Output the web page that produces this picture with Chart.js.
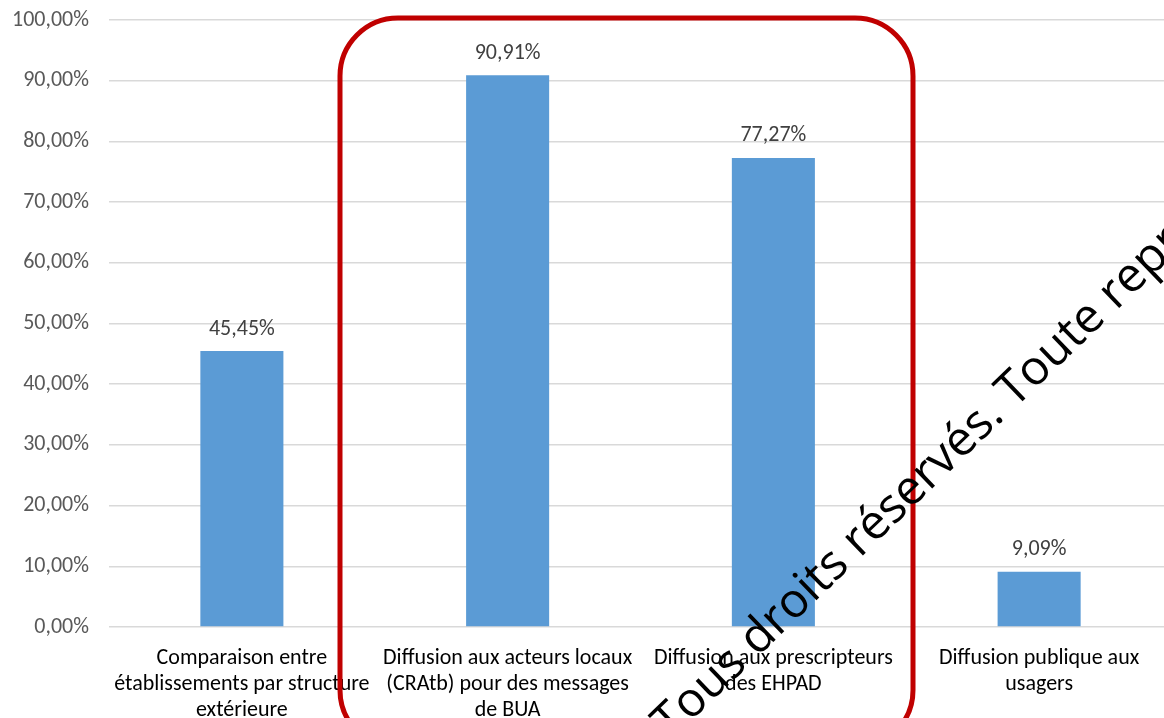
<!DOCTYPE html>
<html>
<head>
<meta charset="utf-8">
<script src="https://cdn.jsdelivr.net/npm/chart.js@4.4.0/dist/chart.umd.min.js"></script>
<style>
  html, body { margin: 0; padding: 0; background: #fff; overflow: hidden; }
  #wrap { width: 1172px; height: 718px; position: relative; }
</style>
</head>
<body>
<div id="wrap"><canvas id="bars"></canvas></div>
<script>
// categories (wrapped as in the original)
const categories = [
  ["Comparaison entre", "établissements par structure", "extérieure"],
  ["Diffusion aux acteurs locaux", "(CRAtb) pour des messages", "de BUA"],
  ["Diffusion aux prescripteurs", "des EHPAD"],
  ["Diffusion publique aux", "usagers"]
];
const values = [45.45, 90.91, 77.27, 9.09];
const yMax = 100;
const yStep = 10;
const watermark = "Tous droits réservés. Toute reproduction interdite";

const FONT = "Carlito, Calibri, Lato, sans-serif";
const fmt = v => v.toFixed(2).replace('.', ',') + '%';

// value labels above the bars
const valueLabels = {
  id: 'valueLabels',
  afterDatasetsDraw(chart) {
    const ctx = chart.ctx;
    const meta = chart.getDatasetMeta(0);
    ctx.save();
    ctx.font = '22px ' + FONT;
    ctx.fillStyle = '#404040';
    ctx.textAlign = 'center';
    ctx.textBaseline = 'middle';
    meta.data.forEach((bar, i) => {
      ctx.fillText(fmt(values[i]), bar.x, bar.y - 22);
    });
    ctx.restore();
  }
};

// red frame + copyright overlay from the source picture
const overlay = {
  id: 'overlay',
  afterDraw(chart) {
    const ctx = chart.ctx;
    ctx.save();
    ctx.strokeStyle = '#C00000';
    ctx.lineWidth = 5;
    ctx.beginPath();
    ctx.roundRect(340, 18, 573, 730, 58);
    ctx.stroke();

    ctx.font = '48px "Open Sans", sans-serif';
    ctx.fillStyle = '#000';
    const before = ctx.measureText("Tous droits réservés").width + ctx.measureText(".").width / 2;
    ctx.translate(1001, 422);
    ctx.rotate(-44 * Math.PI / 180);
    ctx.textBaseline = 'alphabetic';
    ctx.fillText(watermark, -before, 0);
    ctx.restore();
  }
};

new Chart(document.getElementById('bars'), {
  type: 'bar',
  data: {
    labels: categories,
    datasets: [{
      data: values,
      backgroundColor: '#5B9BD5',
      barPercentage: 0.3125,
      categoryPercentage: 1
    }]
  },
  options: {
    responsive: true,
    maintainAspectRatio: false,
    animation: false,
    layout: { padding: { top: 20, right: 0, left: 0, bottom: 0 } },
    plugins: { legend: { display: false }, tooltip: { enabled: false } },
    scales: {
      x: {
        grid: { display: false },
        border: { display: false },
        ticks: {
          color: '#000',
          font: { family: FONT, size: 22, lineHeight: 1.18 },
          padding: 11,
          maxRotation: 0,
          autoSkip: false
        },
        afterFit(scale) { scale.height = 91; }
      },
      y: {
        min: 0,
        max: yMax,
        grid: { color: '#D9D9D9', lineWidth: 1.5, drawTicks: false },
        border: { display: false },
        ticks: {
          stepSize: yStep,
          color: '#595959',
          font: { family: FONT, size: 22 },
          padding: 20,
          callback: v => fmt(v)
        },
        afterFit(scale) {
          scale.width = 109;
          scale.paddingTop = 0;
          scale.paddingBottom = 0;
        }
      }
    }
  },
  plugins: [valueLabels, overlay]
});
</script>
</body>
</html>
